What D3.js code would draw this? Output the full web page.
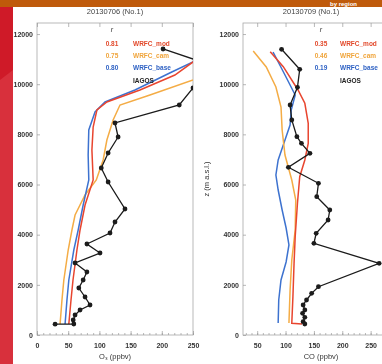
<!DOCTYPE html>
<html><head><meta charset="utf-8">
<script src="https://cdn.jsdelivr.net/npm/d3@7"></script>
<style>html,body{margin:0;padding:0;background:#fff;overflow:hidden}svg{display:block}</style>
</head><body>
<script>
// ---------- data ----------
const yTicks = [0, 2000, 4000, 6000, 8000, 10000, 12000];
const o3Ticks = [0, 50, 100, 150, 200, 250];
const coTicks = [50, 100, 150, 200, 250];
const titles = ["20130706 (No.1)", "20130709 (No.1)"];
const seriesNames = ["WRFC_mod", "WRFC_cam", "WRFC_base", "IAGOS"];
const o3R = ["0.81", "0.75", "0.80"];
const coR = ["0.35", "0.46", "0.19"];

// O3 panel (height m, value ppbv)
const o3ObsZ = [11404, 10965, 10400, 9849, 9171, 8453, 7895, 7257, 6659, 6100, 5024, 4506, 4067, 3628, 3270, 2871, 2512, 2193, 1874, 1515, 1196, 997, 797, 598, 439, 430];
const o3ObsV = [202, 255, 275, 250, 228, 125, 130, 114, 103, 114, 141, 125, 117, 80, 101, 61, 80, 74, 67, 77, 85, 69, 61, 58, 59, 29];
const o3RedZ = [439, 1396, 2193, 3389, 4187, 5183, 6180, 7376, 8293, 8971, 9290, 9769, 10367, 10885, 11164];
const o3RedV = [51, 54.5, 57.7, 64, 69, 77, 90, 88, 90, 96, 112, 165, 221, 250, 270];
const o3OrangeZ = [439, 1396, 2193, 3389, 4187, 4785, 5582, 6180, 6978, 7775, 8573, 9171, 9569, 10167, 10566];
const o3OrangeV = [37, 40, 43, 50, 56, 61, 77, 95, 106, 112, 122, 133, 181, 250, 290];
const o3BlueZ = [439, 1396, 2193, 3389, 4187, 5183, 6180, 7177, 8174, 8892, 9290, 9769, 10486, 10885, 11164];
const o3BlueV = [45, 48, 51, 59, 66, 74, 83, 82, 83, 93, 109, 157, 216, 250, 275];

// CO panel
const coObsZ = [11392, 10594, 9876, 9171, 8573, 7907, 7643, 7245, 6686, 6049, 5515, 4984, 4585, 4055, 3656, 2859, 1926, 1661, 1396, 1196, 997, 865, 706, 530, 439];
const coObsV = [93, 125, 121, 108, 111, 120, 128, 143, 105, 158, 155, 178, 175, 154, 150, 265, 158, 146, 137, 131, 134, 130, 134, 131, 134];
const coRedZ = [11296, 10697, 9769, 9239, 8441, 7643, 6978, 6312, 5251, 3920, 2859, 1527, 466, 440];
const coRedV = [73, 96, 122, 134, 140, 140, 134, 125, 121, 117, 115, 113, 111, 129];
const coOrangeZ = [11324, 10686, 9888, 9091, 8174, 7177, 6180, 5383, 4187, 2990, 1794, 478];
const coOrangeV = [43, 66, 83, 92, 94, 99, 111, 118, 117, 111, 108, 106];
const coBlueZ = [11284, 10367, 9570, 8971, 8373, 7775, 6978, 6380, 5781, 4984, 4266, 3589, 2911, 2193, 1396, 478];
const coBlueV = [78, 99, 117, 110, 108, 99, 87, 83, 87, 94, 101, 106, 101, 92, 88, 87];

const colors = {red: "#e8452f", orange: "#f4ac45", blue: "#3d72cf", obs: "#1a1a1a"};
const legendColors = ["#e24a2c", "#f0a53c", "#2f62c4", "#222"];

// ---------- drawing ----------
const W = 382, H = 364;
const svg = d3.select("body").append("svg").attr("width", W).attr("height", H);
const font = "'Liberation Sans', Arial, sans-serif";

const defs = svg.append("defs");
const blur = defs.append("filter").attr("id", "soft");
blur.append("feGaussianBlur").attr("stdDeviation", 0.45);

const root = svg.append("g").attr("filter", "url(#soft)");

const zip = (zs, vs) => zs.map((z, i) => ({z, v: vs[i]}));

const panels = [
  {x0: 37, x1: 193, dom: [0, 250], ticks: o3Ticks, minor: d3.range(0, 251, 10), title: titles[0], titleX: 115,
   xlab: "O\u2083 (ppbv)", r: o3R, legX: 112, nameX: 133,
   lines: [[o3OrangeZ, o3OrangeV, colors.orange], [o3BlueZ, o3BlueV, colors.blue], [o3RedZ, o3RedV, colors.red]],
   obs: [o3ObsZ, o3ObsV]},
  {x0: 243, x1: 399, dom: [25, 300], ticks: coTicks, minor: d3.range(30, 301, 10), title: titles[1], titleX: 311,
   xlab: "CO (ppbv)", r: coR, legX: 321, nameX: 340, ylab: "z (m a.s.l.)",
   lines: [[coBlueZ, coBlueV, colors.blue], [coOrangeZ, coOrangeV, colors.orange], [coRedZ, coRedV, colors.red]],
   obs: [coObsZ, coObsV]}
];

const yTop = 23, yBot = 335;
const y = d3.scaleLinear().domain([0, 12440]).range([yBot, yTop]);

panels.forEach((p, pi) => {
  const x = d3.scaleLinear().domain(p.dom).range([p.x0, p.x1]);
  const g = root.append("g");
  const cid = "clip" + pi;
  defs.append("clipPath").attr("id", cid).append("rect")
    .attr("x", p.x0).attr("y", yTop).attr("width", p.x1 - p.x0).attr("height", yBot - yTop);

  // frame
  g.append("rect").attr("x", p.x0).attr("y", yTop).attr("width", p.x1 - p.x0).attr("height", yBot - yTop)
    .attr("fill", "#fff").attr("stroke", "#a8a8a8").attr("stroke-width", 0.8);

  const xb = g.append("g").attr("transform", `translate(0,${yBot})`)
    .call(d3.axisBottom(x).tickValues(p.ticks).tickSize(-4).tickPadding(8).tickFormat(d3.format("d")));
  const xm = g.append("g").attr("transform", `translate(0,${yBot})`)
    .call(d3.axisBottom(x).tickValues(p.minor).tickSize(-2).tickFormat(""));
  const xt = g.append("g").attr("transform", `translate(0,${yTop})`)
    .call(d3.axisTop(x).tickValues(p.ticks).tickSize(-4).tickFormat(""));
  const yl = g.append("g").attr("transform", `translate(${p.x0},0)`)
    .call(d3.axisLeft(y).tickValues(yTicks).tickSize(-3).tickPadding(4).tickFormat(d3.format("d")));
  [xb, xm, xt, yl].forEach(a => {
    a.select(".domain").remove();
    a.selectAll("line").attr("stroke", "#999").attr("stroke-width", 0.7);
    a.selectAll("text").attr("fill", "#333").attr("font-size", 7).attr("font-family", font).attr("font-weight", "bold");
  });

  g.append("text").attr("x", p.titleX).attr("y", 14).attr("text-anchor", "middle")
    .attr("font-size", 7.5).attr("font-family", font).attr("fill", "#444").text(p.title);
  g.append("text").attr("x", (p.x0 + p.x1) / 2).attr("y", 359).attr("text-anchor", "middle")
    .attr("font-size", 7.5).attr("font-family", font).attr("fill", "#333").text(p.xlab);
  if (p.ylab) {
    g.append("text").attr("transform", `translate(209,${(yTop + yBot) / 2}) rotate(-90)`)
      .attr("text-anchor", "middle").attr("font-size", 7.5).attr("font-family", font).attr("fill", "#333").text(p.ylab);
  }

  const line = d3.line().x(d => x(d.v)).y(d => y(d.z));
  const plot = g.append("g").attr("clip-path", `url(#${cid})`);
  p.lines.forEach(([zs, vs, c]) => {
    plot.append("path").datum(zip(zs, vs)).attr("d", line)
      .attr("fill", "none").attr("stroke", c).attr("stroke-width", 1.5);
  });
  const od = zip(p.obs[0], p.obs[1]);
  plot.append("path").datum(od).attr("d", line).attr("fill", "none")
    .attr("stroke", colors.obs).attr("stroke-width", 1.3);
  plot.selectAll("circle").data(od).join("circle")
    .attr("cx", d => x(d.v)).attr("cy", d => y(d.z)).attr("r", 2.4).attr("fill", colors.obs);

  // legend
  g.append("text").attr("x", p.legX).attr("y", 32).attr("text-anchor", "middle")
    .attr("font-size", 7).attr("font-family", font).attr("font-style", "italic").attr("fill", "#333").text("r");
  const rows = [43, 55, 67, 80];
  seriesNames.forEach((nm, i) => {
    if (i < 3) {
      g.append("text").attr("x", p.legX).attr("y", rows[i] + 2.5).attr("text-anchor", "middle")
        .attr("font-size", 6.5).attr("font-weight", "bold").attr("font-family", font)
        .attr("fill", legendColors[i]).text(p.r[i]);
    }
    g.append("text").attr("x", p.nameX).attr("y", rows[i] + 2.5)
      .attr("font-size", 6.5).attr("font-weight", "bold").attr("font-family", font)
      .attr("fill", legendColors[i]).text(nm);
  });
});

// slide decoration: red strip on left, orange header bar
const deco = svg.append("g");
deco.append("rect").attr("x", 0).attr("y", 0).attr("width", 13).attr("height", H).attr("fill", "#d8303c");
deco.append("polygon").attr("points", "0,0 13,0 13,70 0,80").attr("fill", "#cf1a28");
deco.append("rect").attr("x", 0).attr("y", 0).attr("width", W).attr("height", 7).attr("fill", "#bf5a0b");
deco.append("text").attr("x", 330).attr("y", 5.5)
  .attr("font-size", 6).attr("font-weight", "bold").attr("font-family", font).attr("fill", "#fff")
  .text("by region");
</script>
</body></html>
